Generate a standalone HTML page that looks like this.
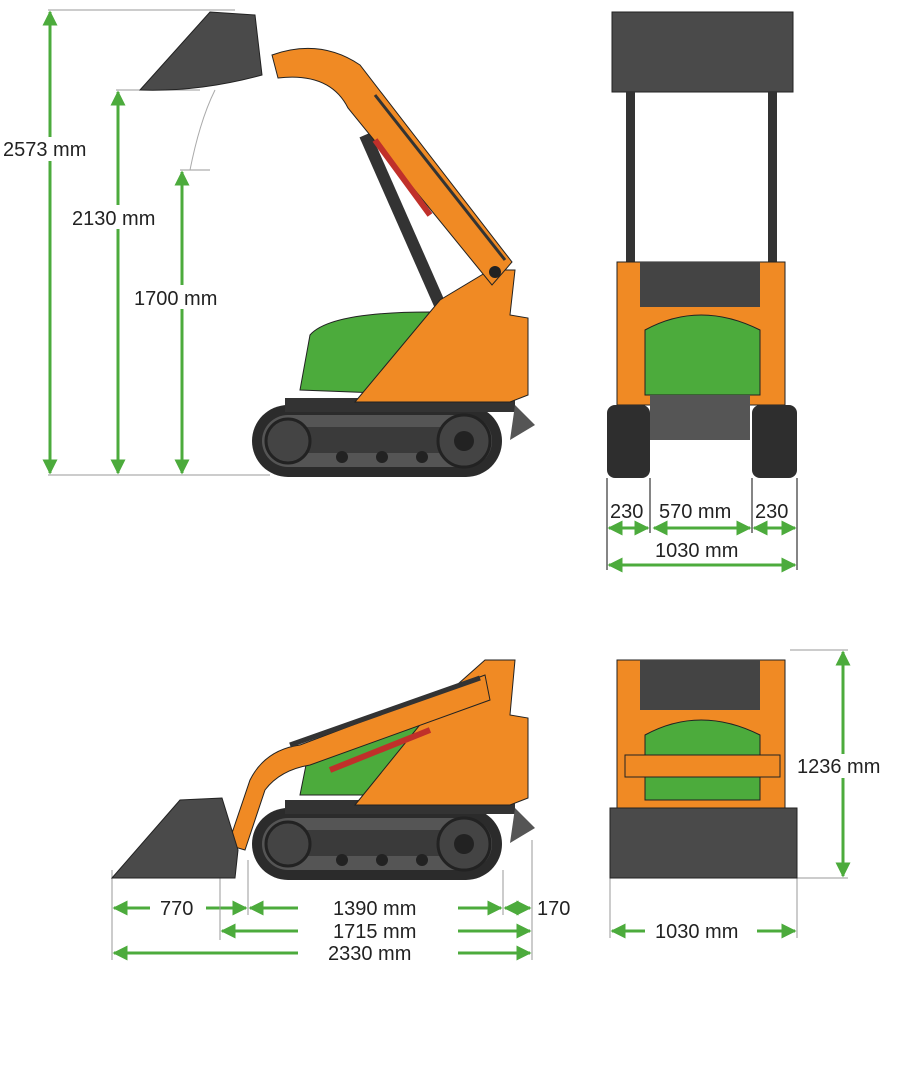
<!DOCTYPE html>
<html><head><meta charset="utf-8"><style>
html,body{margin:0;padding:0;background:#fff;}
svg{display:block;}
text{font-family:"Liberation Sans",sans-serif;font-size:20px;fill:#222;}
</style></head><body>
<svg width="900" height="1080" viewBox="0 0 900 1080" xmlns="http://www.w3.org/2000/svg">
<defs>
<marker id="a" viewBox="0 0 10 10" refX="9" refY="5" markerWidth="5" markerHeight="5" orient="auto-start-reverse"><path d="M0,0L10,5L0,10z" fill="#4cab3c"/></marker>
<g id="track">
 <rect x="0" y="0" width="250" height="72" rx="36" fill="#2b2b2b"/>
 <rect x="10" y="10" width="230" height="52" rx="26" fill="#555"/>
 <rect x="30" y="22" width="190" height="26" fill="#3a3a3a"/>
 <circle cx="36" cy="36" r="22" fill="#444" stroke="#222" stroke-width="3"/>
 <circle cx="212" cy="36" r="26" fill="#444" stroke="#222" stroke-width="3"/>
 <circle cx="212" cy="36" r="10" fill="#222"/>
 <circle cx="90" cy="52" r="6" fill="#222"/><circle cx="130" cy="52" r="6" fill="#222"/><circle cx="170" cy="52" r="6" fill="#222"/>
</g>
</defs>
<g stroke="#4cab3c" stroke-width="3" fill="none" marker-start="url(#a)" marker-end="url(#a)">
<line x1="50" y1="12" x2="50" y2="473"/>
<line x1="118" y1="92" x2="118" y2="473"/>
<line x1="182" y1="172" x2="182" y2="473"/>
<line x1="609" y1="528" x2="648" y2="528"/>
<line x1="654" y1="528" x2="750" y2="528"/>
<line x1="754" y1="528" x2="795" y2="528"/>
<line x1="609" y1="565" x2="795" y2="565"/>
<line x1="114" y1="908" x2="246" y2="908"/>
<line x1="250" y1="908" x2="501" y2="908"/>
<line x1="505" y1="908" x2="530" y2="908"/>
<line x1="222" y1="931" x2="530" y2="931"/>
<line x1="114" y1="953" x2="530" y2="953"/>
<line x1="843" y1="652" x2="843" y2="876"/>
<line x1="612" y1="931" x2="795" y2="931"/>
</g>
<g stroke="#999" stroke-width="1">
<line x1="48" y1="10" x2="235" y2="10"/><line x1="116" y1="90" x2="200" y2="90"/>
<line x1="180" y1="170" x2="210" y2="170"/><line x1="48" y1="475" x2="270" y2="475"/>
<line x1="112" y1="870" x2="112" y2="960"/><line x1="220" y1="860" x2="220" y2="940"/>
<line x1="248" y1="860" x2="248" y2="915"/><line x1="503" y1="870" x2="503" y2="915"/>
<line x1="532" y1="840" x2="532" y2="960"/><line x1="610" y1="878" x2="610" y2="938"/>
<line x1="797" y1="878" x2="797" y2="938"/><line x1="790" y1="650" x2="848" y2="650"/>
<line x1="797" y1="878" x2="848" y2="878"/>
</g>
<g stroke="#333" stroke-width="1.2">
<line x1="607" y1="478" x2="607" y2="570"/><line x1="650" y1="478" x2="650" y2="533"/>
<line x1="752" y1="478" x2="752" y2="533"/><line x1="797" y1="478" x2="797" y2="570"/>
</g>
<g fill="#fff"><rect x="2" y="137" width="100" height="24"/><rect x="70" y="205" width="95" height="24"/><rect x="132" y="285" width="100" height="24"/>
<rect x="796" y="754" width="94" height="24"/></g>
<text x="3" y="156">2573 mm</text><text x="72" y="225">2130 mm</text><text x="134" y="305">1700 mm</text>
<text x="610" y="518">230</text><text x="659" y="518">570 mm</text><text x="755" y="518">230</text>
<text x="655" y="557">1030 mm</text>
<rect x="150" y="897" width="56" height="22" fill="#fff"/><text x="160" y="915">770</text>
<rect x="298" y="897" width="160" height="22" fill="#fff"/><text x="333" y="915">1390 mm</text>
<text x="537" y="915">170</text>
<rect x="298" y="920" width="160" height="22" fill="#fff"/><text x="333" y="938">1715 mm</text>
<rect x="298" y="942" width="160" height="22" fill="#fff"/><text x="328" y="960">2330 mm</text>
<rect x="645" y="920" width="112" height="22" fill="#fff"/><text x="655" y="938">1030 mm</text>
<text x="797" y="773">1236 mm</text>

<!-- top-left machine -->
<path d="M190,170 Q200,120 215,90" stroke="#aaa" fill="none"/>
<use href="#track" x="252" y="405"/>
<rect x="285" y="398" width="230" height="14" fill="#333"/>
<path d="M515,405 L535,425 L510,440z" fill="#555"/>
<path d="M300,390 L310,335 Q330,312 430,312 L430,395z" fill="#4cab3c" stroke="#222"/>
<line x1="365" y1="135" x2="440" y2="305" stroke="#333" stroke-width="12"/>
<path d="M355,402 L440,300 L490,270 L515,270 L510,315 L528,318 L528,395 L510,402z" fill="#f08a24" stroke="#222"/>
<path d="M272,55 Q320,38 360,65 L512,262 L492,285 L348,108 Q330,72 278,78z" fill="#f08a24" stroke="#222"/>
<line x1="375" y1="140" x2="430" y2="215" stroke="#c0302a" stroke-width="6"/>
<line x1="375" y1="95" x2="505" y2="260" stroke="#333" stroke-width="3"/>
<circle cx="495" cy="272" r="6" fill="#222"/>
<path d="M140,90 L210,12 L255,15 L262,75 Q200,92 140,90z" fill="#4a4a4a" stroke="#222"/>

<!-- top-right front view -->
<rect x="612" y="12" width="181" height="80" fill="#4a4a4a" stroke="#222"/>
<rect x="626" y="92" width="9" height="175" fill="#333"/><rect x="768" y="92" width="9" height="175" fill="#333"/>
<rect x="617" y="262" width="168" height="143" fill="#f08a24" stroke="#222"/>
<rect x="640" y="262" width="120" height="45" fill="#444"/>
<path d="M645,395 L645,330 Q700,300 760,330 L760,395z" fill="#4cab3c" stroke="#222"/>
<rect x="650" y="395" width="100" height="45" fill="#555"/>
<rect x="607" y="405" width="43" height="73" rx="8" fill="#2e2e2e"/>
<rect x="752" y="405" width="45" height="73" rx="8" fill="#2e2e2e"/>

<!-- bottom-left machine -->
<use href="#track" x="252" y="808"/>
<rect x="285" y="800" width="230" height="14" fill="#333"/>
<path d="M515,808 L535,828 L510,843z" fill="#555"/>
<path d="M300,795 L310,745 Q330,725 430,725 L430,795z" fill="#4cab3c" stroke="#222"/>
<path d="M355,805 L440,700 L485,660 L515,660 L510,715 L528,718 L528,798 L510,805z" fill="#f08a24" stroke="#222"/>
<path d="M485,675 L300,745 Q265,750 250,780 L228,845 L245,850 L265,790 Q280,770 310,765 L490,700z" fill="#f08a24" stroke="#222"/>
<line x1="330" y1="770" x2="430" y2="730" stroke="#c0302a" stroke-width="6"/>
<line x1="290" y1="745" x2="480" y2="678" stroke="#333" stroke-width="5"/>
<path d="M112,878 L180,800 L222,798 L238,850 L235,878z" fill="#4a4a4a" stroke="#222"/>

<!-- bottom-right front view -->
<rect x="617" y="660" width="168" height="148" fill="#f08a24" stroke="#222"/>
<rect x="640" y="660" width="120" height="50" fill="#444"/>
<path d="M645,800 L645,735 Q700,705 760,735 L760,800z" fill="#4cab3c" stroke="#222"/>
<rect x="625" y="755" width="155" height="22" fill="#f08a24" stroke="#222"/>
<rect x="610" y="808" width="187" height="70" fill="#4a4a4a" stroke="#222"/>
</svg>
</body></html>
